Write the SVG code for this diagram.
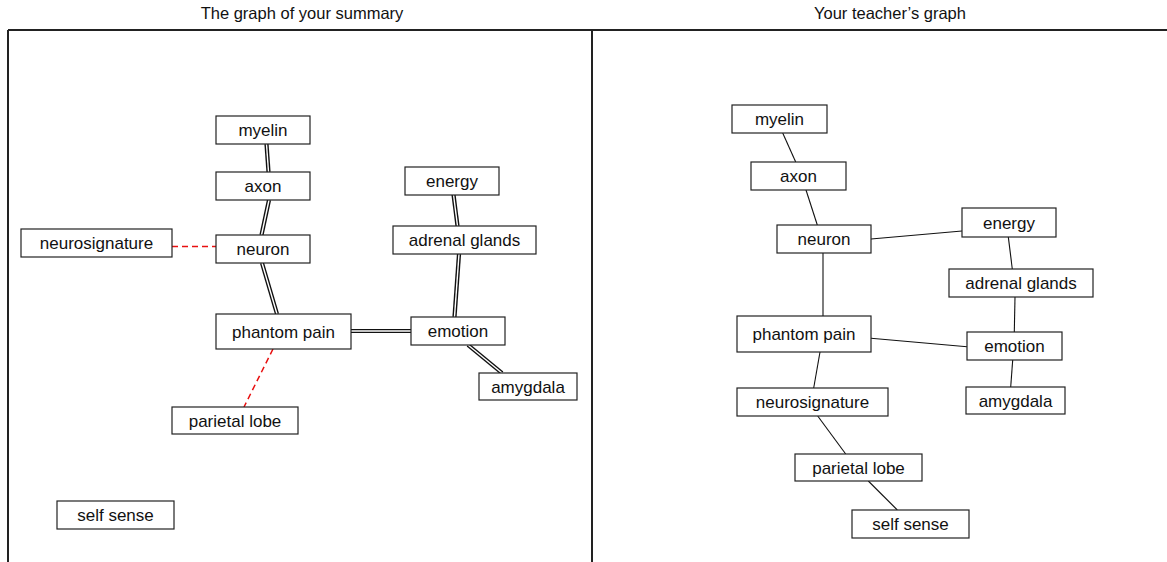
<svg xmlns="http://www.w3.org/2000/svg" width="1167" height="562" viewBox="0 0 1167 562">
<style>
.frame{stroke:#222;stroke-width:2;fill:none}
.title{font-family:"Liberation Sans",Arial,sans-serif;font-size:16.5px;fill:#111;text-anchor:middle}
.box{fill:#fff;stroke:#222;stroke-width:1.2}
.lbl{font-family:"Liberation Sans",Arial,sans-serif;font-size:17px;fill:#111;text-anchor:middle}
.dbl{stroke:#111;stroke-width:4.2;fill:none}
.dblw{stroke:#fff;stroke-width:1.4;fill:none}
.dash{stroke:#e81010;stroke-width:1.5;stroke-dasharray:6,4;fill:none}
.ln{stroke:#111;stroke-width:1.1;fill:none}
</style>
<rect width="1167" height="562" fill="#fff"/>
<g id="frame">
<line class="frame" x1="8" y1="30" x2="1167" y2="30"/>
<line class="frame" x1="8" y1="30" x2="8" y2="562"/>
<line class="frame" x1="592" y1="30" x2="592" y2="562"/>
<text class="title" x="302" y="19">The graph of your summary</text>
<text class="title" x="890" y="19">Your teacher’s graph</text>
</g>
<g id="connectors">
<g id="left-double">
<line class="dbl" x1="266.5" y1="144" x2="268.5" y2="172"/>
<line class="dbl" x1="269" y1="200" x2="261.5" y2="235"/>
<line class="dbl" x1="262" y1="263" x2="277" y2="314"/>
<line class="dbl" x1="453.5" y1="194.5" x2="457.5" y2="226"/>
<line class="dbl" x1="459" y1="254" x2="454.5" y2="317"/>
<line class="dbl" x1="351" y1="331" x2="411" y2="331"/>
<line class="dbl" x1="468" y1="345" x2="502" y2="373"/>
<line class="dblw" x1="266.5" y1="144" x2="268.5" y2="172"/>
<line class="dblw" x1="269" y1="200" x2="261.5" y2="235"/>
<line class="dblw" x1="262" y1="263" x2="277" y2="314"/>
<line class="dblw" x1="453.5" y1="194.5" x2="457.5" y2="226"/>
<line class="dblw" x1="459" y1="254" x2="454.5" y2="317"/>
<line class="dblw" x1="351" y1="331" x2="411" y2="331"/>
<line class="dblw" x1="468" y1="345" x2="502" y2="373"/>
</g>
<line class="dash" x1="172" y1="246.5" x2="216" y2="246.5"/>
<line class="dash" x1="273" y1="349" x2="244" y2="407"/>
<g id="right-lines">
<line class="ln" x1="782.7" y1="133" x2="795.7" y2="162"/>
<line class="ln" x1="806" y1="190" x2="817.3" y2="225"/>
<line class="ln" x1="871" y1="239" x2="962" y2="231"/>
<line class="ln" x1="1008.3" y1="237" x2="1012.3" y2="269"/>
<line class="ln" x1="823" y1="253" x2="823" y2="316"/>
<line class="ln" x1="1015" y1="297" x2="1014.3" y2="332"/>
<line class="ln" x1="871" y1="338.3" x2="967" y2="346.7"/>
<line class="ln" x1="1012.7" y1="360" x2="1010.7" y2="387"/>
<line class="ln" x1="820" y1="352" x2="813.7" y2="388"/>
<line class="ln" x1="817.7" y1="416" x2="845.7" y2="454"/>
<line class="ln" x1="868.3" y1="481" x2="897.3" y2="510"/>
</g>
</g>
<g id="L-myelin"><rect class="box" x="216" y="116" width="94" height="28"/><text class="lbl" x="263" y="136">myelin</text></g>
<g id="L-axon"><rect class="box" x="216" y="172" width="94" height="28"/><text class="lbl" x="263" y="192">axon</text></g>
<g id="L-neurosignature"><rect class="box" x="21" y="229" width="151" height="28"/><text class="lbl" x="96.5" y="249">neurosignature</text></g>
<g id="L-neuron"><rect class="box" x="216" y="235" width="94" height="28"/><text class="lbl" x="263" y="255">neuron</text></g>
<g id="L-energy"><rect class="box" x="405" y="167" width="94" height="28"/><text class="lbl" x="452" y="187">energy</text></g>
<g id="L-adrenal"><rect class="box" x="393" y="226" width="143" height="28"/><text class="lbl" x="464.5" y="246">adrenal glands</text></g>
<g id="L-phantom"><rect class="box" x="216" y="314" width="135" height="35"/><text class="lbl" x="283.5" y="337.5">phantom pain</text></g>
<g id="L-emotion"><rect class="box" x="411" y="317" width="94" height="28"/><text class="lbl" x="458" y="337">emotion</text></g>
<g id="L-amygdala"><rect class="box" x="479" y="373" width="98" height="27"/><text class="lbl" x="528" y="392.5">amygdala</text></g>
<g id="L-parietal"><rect class="box" x="172" y="407" width="126" height="27"/><text class="lbl" x="235" y="426.5">parietal lobe</text></g>
<g id="L-self"><rect class="box" x="57" y="501" width="117" height="28"/><text class="lbl" x="115.5" y="521">self sense</text></g>
<g id="R-myelin"><rect class="box" x="732" y="105" width="95" height="28"/><text class="lbl" x="779.5" y="125">myelin</text></g>
<g id="R-axon"><rect class="box" x="751" y="162" width="95" height="28"/><text class="lbl" x="798.5" y="182">axon</text></g>
<g id="R-neuron"><rect class="box" x="777" y="225" width="94" height="28"/><text class="lbl" x="824" y="245">neuron</text></g>
<g id="R-energy"><rect class="box" x="962" y="208" width="94" height="29"/><text class="lbl" x="1009" y="228.5">energy</text></g>
<g id="R-adrenal"><rect class="box" x="949" y="269" width="144" height="28"/><text class="lbl" x="1021" y="289">adrenal glands</text></g>
<g id="R-phantom"><rect class="box" x="737" y="316" width="134" height="36"/><text class="lbl" x="804" y="340">phantom pain</text></g>
<g id="R-emotion"><rect class="box" x="967" y="332" width="95" height="28"/><text class="lbl" x="1014.5" y="352">emotion</text></g>
<g id="R-neurosignature"><rect class="box" x="737" y="388" width="151" height="28"/><text class="lbl" x="812.5" y="408">neurosignature</text></g>
<g id="R-amygdala"><rect class="box" x="966" y="387" width="99" height="27"/><text class="lbl" x="1015.5" y="406.5">amygdala</text></g>
<g id="R-parietal"><rect class="box" x="795" y="454" width="127" height="27"/><text class="lbl" x="858.5" y="473.5">parietal lobe</text></g>
<g id="R-self"><rect class="box" x="852" y="510" width="117" height="28"/><text class="lbl" x="910.5" y="530">self sense</text></g>
</svg>
